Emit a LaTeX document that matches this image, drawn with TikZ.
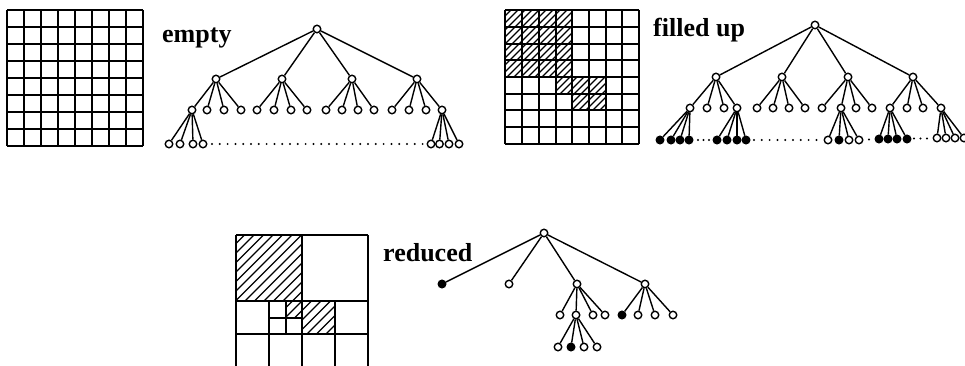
\documentclass[tikz,border=0pt]{standalone}
\usepackage{fontspec}
\setmainfont{Liberation Serif}
\begin{document}
\begin{tikzpicture}[x=1pt,y=-1pt,
  wn/.style={circle, draw, fill=white, inner sep=0pt, minimum size=7.5pt, line width=1.4pt},
  bn/.style={wn, fill=black},
  edge/.style={line width=1.4pt},
  gridline/.style={line width=1.8pt},
  hatchline/.style={line width=1.1pt},
  lbl/.style={font=\bfseries\fontsize{26}{26}\selectfont, inner sep=0pt, anchor=base west},
  dots/.style={line width=2.2pt, dash pattern=on 0pt off 7.8pt, line cap=round}]
\useasboundingbox (0,0) rectangle (965,366);

% ---------- grid 1 (empty) ----------
\foreach \i in {0,...,8} {
  \draw[gridline] (7+\i*17,10) -- (7+\i*17,146);
  \draw[gridline] (7,10+\i*17) -- (143,10+\i*17);
}
\node[lbl] (lempty) at (162,43) {empty};

% ---------- tree 1 (empty) ----------
\node[wn] (e) at (317,29) {};
\foreach \x [count=\i] in {216,282,352,417} {
  \node[wn] (e\i) at (\x,79) {};
  \draw[edge] (e) -- (e\i);
}
\foreach \x [count=\i] in {192,207,224,241,257,274,291,307,326,342,358,374,392,409,426,442} {
  \pgfmathtruncatemacro\p{(\i+3)/4}
  \node[wn] (ee\i) at (\x,110) {};
  \draw[edge] (e\p) -- (ee\i);
}
\foreach \x [count=\i] in {169,180,193,203} {
  \node[wn] (eL\i) at (\x,144) {};
  \draw[edge] (ee1) -- (eL\i);
}
\foreach \x [count=\i] in {431,439.5,449,459} {
  \node[wn] (eR\i) at (\x,144) {};
  \draw[edge] (ee16) -- (eR\i);
}
\coordinate (ed1) at (212,144);
\coordinate (ed2) at (424,144);
\draw[dots] (ed1) -- (ed2);

% ---------- grid 2 (filled up) ----------
\begin{scope}
  \clip (505,10) rectangle (572,77) (556,77) rectangle (606,94) (572,94) rectangle (606,110);
  \foreach \k in {0,...,30} \draw[hatchline] (404+\k*7,110) -- ++(102,-102);
\end{scope}
\foreach \v in {505,522,539,556,572,589,606,622,639} {
  \draw[gridline] (\v,10) -- (\v,144);
}
\foreach \h in {10,27,44,60,77,94,110,127,144} {
  \draw[gridline] (505,\h) -- (639,\h);
}
\node[lbl] (lfilled) at (653,37) {filled up};

% ---------- tree 2 (filled up) ----------
\node[wn] (f) at (815,25) {};
\foreach \x [count=\i] in {716,782,848,913} {
  \node[wn] (f\i) at (\x,77) {};
  \draw[edge] (f) -- (f\i);
}
\foreach \x [count=\i] in {690,707,724,737,757,773,789,805,822,841,856,872,890,907,923,941} {
  \pgfmathtruncatemacro\p{(\i+3)/4}
  \node[wn] (ff\i) at (\x,108) {};
  \draw[edge] (f\p) -- (ff\i);
}
\foreach \x/\s [count=\i] in {660/bn,671/bn,680/bn,689/bn} {
  \node[\s] (fA\i) at (\x,140) {};
  \draw[edge] (ff1) -- (fA\i);
}
\foreach \x/\s [count=\i] in {717/bn,727/bn,737/bn,746/bn} {
  \node[\s] (fB\i) at (\x,140) {};
  \draw[edge] (ff4) -- (fB\i);
}
\foreach \x/\s [count=\i] in {828/wn,839/bn,849/wn,859/wn} {
  \node[\s] (fC\i) at (\x,140) {};
  \draw[edge] (ff10) -- (fC\i);
}
\foreach \x/\s [count=\i] in {879/bn,888/bn,897/bn,907/bn} {
  \node[\s] (fD\i) at (\x,139) {};
  \draw[edge] (ff13) -- (fD\i);
}
\foreach \x/\s [count=\i] in {937/wn,946/wn,955/wn,964/wn} {
  \node[\s] (fE\i) at (\x,138) {};
  \draw[edge] (ff16) -- (fE\i);
}
\coordinate (fd1) at (698,140);
\coordinate (fd2) at (710,140);
\draw[dots, dash pattern=on 0pt off 5.5pt] (fd1) -- (fd2);
\coordinate (fd3) at (754,140);
\coordinate (fd4) at (819,140);
\draw[dots] (fd3) -- (fd4);
\coordinate (fd5) at (869,139.5);
\draw[dots] (fd5) -- ++(0.1,0);
\coordinate (fd6) at (914,138.5);
\coordinate (fd7) at (928,138.5);
\draw[dots, dash pattern=on 0pt off 6.5pt] (fd6) -- (fd7);

% ---------- grid 3 (reduced) ----------
\begin{scope}
  \clip (236,235) rectangle (302,301) (286,301) rectangle (302,318) (302,301) rectangle (335,334);
  \foreach \k in {0,...,25} \draw[hatchline] (136+\k*9.5,334) -- ++(100,-100);
\end{scope}
\draw[gridline] (236,235) -- (368,235);
\draw[gridline] (236,301) -- (368,301);
\draw[gridline] (236,334) -- (368,334);
\draw[gridline] (236,367) -- (368,367);
\draw[gridline] (236,235) -- (236,367);
\draw[gridline] (302,235) -- (302,367);
\draw[gridline] (368,235) -- (368,367);
\draw[gridline] (269,301) -- (269,367);
\draw[gridline] (335,301) -- (335,367);
\draw[gridline] (286,301) -- (286,334);
\draw[gridline] (269,318) -- (302,318);
\node[lbl] (lreduced) at (383,261) {reduced};

% ---------- tree 3 (reduced) ----------
\node[wn] (r) at (544,233) {};
\node[bn] (r1) at (442,284) {};
\node[wn] (r2) at (509,284) {};
\node[wn] (r3) at (577,284) {};
\node[wn] (r4) at (645,284) {};
\foreach \i in {1,...,4} \draw[edge] (r) -- (r\i);
\foreach \x/\s [count=\i] in {560/wn,576/wn,593/wn,605/wn} {
  \node[\s] (rr\i) at (\x,315) {};
  \draw[edge] (r3) -- (rr\i);
}
\foreach \x/\s [count=\i] in {622/bn,638/wn,655/wn,673/wn} {
  \node[\s] (rs\i) at (\x,315) {};
  \draw[edge] (r4) -- (rs\i);
}
\foreach \x/\s [count=\i] in {558/wn,571/bn,584/wn,597/wn} {
  \node[\s] (rt\i) at (\x,347) {};
  \draw[edge] (rr2) -- (rt\i);
}
\end{tikzpicture}
\end{document}
